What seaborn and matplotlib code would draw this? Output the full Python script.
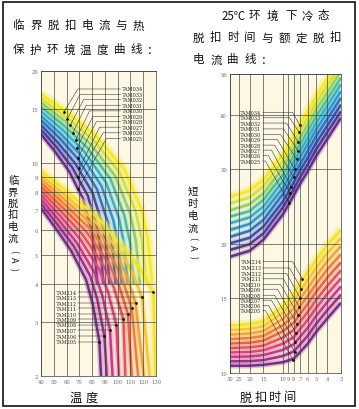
import numpy as np
import pandas as pd
import matplotlib
matplotlib.use("Agg")
import matplotlib.pyplot as plt
from matplotlib.patches import Rectangle
import seaborn as sns

sns.set_theme(style="white")
plt.rcParams['font.family'] = ['Noto Sans CJK SC', 'DejaVu Sans']

# ---------------- data: left chart (current vs ambient temperature) ----------------
temp_ticks = [40, 50, 60, 70, 80, 90, 100, 110, 120, 130]
left_y_ticks = [2, 3, 4, 5, 6, 7, 8, 9, 10, 15, 20]

hi_names = ["7AM025", "7AM026", "7AM027", "7AM028", "7AM029",
            "7AM030", "7AM031", "7AM032", "7AM033", "7AM034"]
lo_names = ["7AM205", "7AM206", "7AM207", "7AM208", "7AM209",
            "7AM210", "7AM211", "7AM212", "7AM213", "7AM214"]

left_hi_temp = [
    [40, 51, 62, 73, 79.6, 82.2, 84],
    [40, 52.2, 64.4, 76.6, 83.9, 86.8, 88.8],
    [40, 53.4, 66.8, 80.2, 88.2, 91.5, 93.6],
    [40, 54.6, 69.15, 83.7, 92.5, 96.0, 98.3],
    [40, 55.75, 71.5, 87.25, 96.7, 100.5, 103],
    [40, 56.95, 73.9, 90.85, 101, 105.1, 107.8],
    [40, 58.15, 76.3, 94.45, 105.3, 109.7, 112.6],
    [40, 59.35, 78.7, 98.05, 109.7, 114.3, 117.4],
    [40, 60.55, 81.1, 101.65, 114, 118.9, 122.2],
    [40, 61.75, 83.5, 105.25, 118.3, 123.5, 127],
]
left_hi_curr = [
    [12.4, 10.89, 9.38, 7.61, 6.02, 5.09, 4.0],
    [12.85, 11.26, 9.66, 7.81, 6.12, 5.15, 4.0],
    [13.3, 11.63, 9.95, 8.0, 6.23, 5.21, 4.0],
    [13.8, 12.04, 10.27, 8.21, 6.35, 5.27, 4.0],
    [14.25, 12.41, 10.56, 8.41, 6.46, 5.33, 4.0],
    [14.75, 12.82, 10.88, 8.62, 6.58, 5.4, 4.0],
    [15.25, 13.23, 11.2, 8.84, 6.7, 5.46, 4.0],
    [15.75, 13.64, 11.52, 9.05, 6.82, 5.53, 4.0],
    [16.25, 14.05, 11.84, 9.27, 6.94, 5.59, 4.0],
    [16.8, 14.5, 12.19, 9.5, 7.07, 5.66, 4.0],
]
left_lo_temp = [
    [40, 51.75, 63.5, 75.25, 80.5, 85.7, 87],
    [40, 52.9, 65.75, 78.6, 84.1, 89.6, 91.5],
    [40, 54, 68, 82, 88, 94, 96],
    [40, 55.25, 70.5, 85.75, 92.4, 99, 101],
    [40, 56.5, 73, 89.5, 97, 104.5, 106],
    [40, 57.75, 75.5, 93.25, 100.6, 108, 111],
    [40, 59, 78, 97, 104, 111, 116],
    [40, 60.1, 80.25, 100.4, 107.2, 114, 120.5],
    [40, 61.25, 82.5, 103.75, 111.4, 119, 125],
    [40, 62.4, 84.75, 107.1, 117.5, 128, 129.5],
]
left_lo_curr = [
    [7.1, 6.08, 5.16, 4.14, 3.45, 2.59, 2.0],
    [7.35, 6.28, 5.32, 4.25, 3.56, 2.70, 2.0],
    [7.6, 6.48, 5.47, 4.35, 3.67, 2.82, 2.0],
    [7.85, 6.68, 5.63, 4.46, 3.78, 2.94, 2.0],
    [8.1, 6.88, 5.78, 4.56, 3.9, 3.07, 2.0],
    [8.35, 7.08, 5.94, 4.67, 4.01, 3.19, 2.0],
    [8.6, 7.28, 6.09, 4.77, 4.13, 3.33, 2.0],
    [8.85, 7.48, 6.25, 4.88, 4.25, 3.46, 2.0],
    [9.1, 7.68, 6.4, 4.98, 4.38, 3.62, 2.0],
    [9.4, 7.92, 6.59, 5.11, 4.5, 3.76, 2.0],
]
# marker dots (k0..k9)
left_hi_dot_t = [69, 69, 70, 69, 68, 67, 65, 63, 60.5, 58]
left_hi_dot_i = [8.2, 9.0, 9.6, 10.4, 11.2, 11.85, 12.55, 13.3, 13.9, 14.7]
left_hi_label_i = [12.02, 12.54, 13.09, 13.63, 14.18, 14.80, 15.45, 16.11, 16.78, 17.46]
left_hi_bend_t = [91.2, 88.6, 85.9, 83.3, 80.7, 78.0, 75.4, 73.3, 70.7, 68.9]
left_lo_dot_t = [85.7, 89.6, 94, 99, 104.5, 108, 111, 114, 119, 128]
left_lo_dot_i = [2.59, 2.70, 2.82, 2.94, 3.07, 3.19, 3.33, 3.46, 3.62, 3.76]

# ---------------- data: right chart (current vs cold trip time) ----------------
time_ticks = [30, 25, 20, 15, 10, 9, 8, 7, 6, 5, 4, 3]
time_labels = ["30", "25", "20", "15", "10", "9", "8", "7", "6", "5", "4", "3"]
right_y_ticks = [10, 15, 20, 30, 40, 50]
time_grid = [30, 20, 15, 10, 8, 7, 6, 5, 4, 3]

right_hi_curr = [
    [18.7, 19.3, 20.5, 23.5, 26.0, 27.7, 29.6, 32.2, 35.2, 39.5],
    [19.4, 20.0, 21.2, 24.4, 26.9, 28.7, 30.7, 33.4, 36.5, 40.9],
    [20.1, 20.7, 22.0, 25.2, 27.9, 29.8, 31.8, 34.6, 37.8, 42.4],
    [20.8, 21.5, 22.8, 26.2, 29.0, 30.8, 33.0, 35.9, 39.2, 44.0],
    [21.6, 22.3, 23.7, 27.1, 30.0, 32.0, 34.2, 37.2, 40.6, 45.6],
    [22.4, 23.1, 24.5, 28.1, 31.1, 33.1, 35.4, 38.5, 42.1, 47.3],
    [23.2, 23.9, 25.4, 29.1, 32.2, 34.3, 36.7, 39.9, 43.6, 49.0],
    [24.0, 24.8, 26.3, 30.2, 33.4, 35.6, 38.0, 41.4, 45.2, 50.8],
    [24.9, 25.7, 27.3, 31.3, 34.6, 36.9, 39.4, 42.9, 46.9, 52.6],
    [25.8, 26.7, 28.3, 32.5, 35.9, 38.3, 40.9, 44.5, 48.6, 54.5],
]
right_lo_curr = [
    [10.4, 10.4, 10.45, 10.6, 10.8, 11.2, 11.7, 12.5, 13.4, 14.6],
    [10.65, 10.66, 10.72, 10.96, 11.23, 11.67, 12.21, 13.05, 14.0, 15.25],
    [10.91, 10.93, 11.01, 11.33, 11.67, 12.16, 12.74, 13.62, 14.63, 15.93],
    [11.17, 11.2, 11.3, 11.71, 12.13, 12.67, 13.3, 14.22, 15.29, 16.64],
    [11.44, 11.48, 11.59, 12.11, 12.61, 13.2, 13.88, 14.84, 15.97, 17.38],
    [11.72, 11.77, 11.9, 12.52, 13.11, 13.75, 14.49, 15.5, 16.69, 18.15],
    [12.0, 12.07, 12.21, 12.94, 13.63, 14.33, 15.12, 16.18, 17.44, 18.96],
    [12.29, 12.37, 12.53, 13.38, 14.16, 14.93, 15.78, 16.89, 18.23, 19.8],
    [12.59, 12.68, 12.86, 13.83, 14.72, 15.55, 16.47, 17.63, 19.04, 20.68],
    [12.9, 13.0, 13.2, 14.3, 15.3, 16.2, 17.2, 18.4, 19.9, 21.6],
]
right_hi_dot_t = [8.8, 8.6, 8.4, 8.0, 7.85, 7.5, 7.3, 7.3, 7.18, 7.07]
right_hi_dot_i = [25.0, 26.3, 27.2, 28.7, 30.0, 31.6, 33.1, 34.7, 36.6, 38.0]
right_hi_label_i = [31.3, 32.2, 33.2, 34.1, 35.1, 36.1, 37.2, 38.4, 39.5, 40.7]
right_lo_dot_t = [8.07, 7.85, 7.74, 7.63, 7.48, 7.32, 7.17, 7.03, 6.83, 6.69]
right_lo_dot_i = [10.7, 11.2, 11.8, 12.4, 13.0, 13.7, 14.3, 15.0, 15.7, 16.6]
right_lo_label_i = [14.0, 14.4, 14.8, 15.2, 15.7, 16.1, 16.6, 17.1, 17.6, 18.2]
right_bend_t = [14.4, 13.5, 12.7, 11.9, 11.2, 10.5, 9.9, 9.3, 8.7, 8.2]

hi_colors = ['#6b2a8f', '#4e3a9c', '#3550b0', '#2a74c2', '#2898d2',
             '#33b2c6', '#4fc096', '#93cf5a', '#d2e13a', '#f7ea1f']
lo_colors = ['#7a2a8c', '#a02e8c', '#c8368a', '#e0427a', '#e9505a',
             '#ee6240', '#f27f2e', '#f6a12b', '#f8c52a', '#f7e41f']

# ---------------- figure ----------------
W, H = 359, 410
fig = plt.figure(figsize=(W / 100, H / 100), dpi=100)
fig.patch.set_facecolor('white')

def fx(px):
    return px / W

def fy(py):
    return 1 - py / H

axL = fig.add_axes([fx(41), fy(377), 115 / W, 305 / H])
axR = fig.add_axes([fx(230), fy(374), 111 / W, 299 / H])

BG = '#fcf8e3'
SERIF = 'DejaVu Serif'


def family_df(names, xs_list, ys_list):
    rows = []
    for name, xs, ys in zip(names, xs_list, ys_list):
        for x, y in zip(xs, ys):
            rows.append((name, x, y))
    return pd.DataFrame(rows, columns=['curve', 'x', 'y'])


def draw_family(ax, names, xs_list, ys_list, colors):
    df = family_df(names, xs_list, ys_list)
    pal = dict(zip(names, colors))
    # soft yellow halo around the outer yellow curve
    top = df[df['curve'] == names[-1]]
    sns.lineplot(data=top, x='x', y='y', color='#f6ee8a', linewidth=7,
                 alpha=0.45, estimator=None, ax=ax, legend=False,
                 solid_capstyle='butt')
    sns.lineplot(data=df, x='x', y='y', hue='curve', palette=pal,
                 linewidth=4.0, alpha=0.28, estimator=None, ax=ax,
                 legend=False, solid_capstyle='butt')
    sns.lineplot(data=df, x='x', y='y', hue='curve', palette=pal,
                 linewidth=1.75, estimator=None, ax=ax, legend=False,
                 solid_capstyle='butt')


def style_axes(ax):
    ax.set_facecolor(BG)
    ax.set_axisbelow(False)
    ax.grid(True, which='major', color='#3a3a3a', linewidth=0.45)
    ax.minorticks_off()
    ax.tick_params(length=0, pad=2.2, labelsize=3.8, labelcolor='#6a6a6a')
    for lab in ax.get_xticklabels() + ax.get_yticklabels():
        lab.set_family(SERIF)
    for sp in ax.spines.values():
        sp.set_color('#3a3a3a')
        sp.set_linewidth(0.5)
    ax.set_xlabel('')
    ax.set_ylabel('')


# ---- left chart ----
draw_family(axL, hi_names, left_hi_temp, left_hi_curr, hi_colors)
draw_family(axL, lo_names, left_lo_temp, left_lo_curr, lo_colors)
axL.set_yscale('log')
axL.set_xlim(40, 130)
axL.set_ylim(2, 20)
axL.set_xticks(temp_ticks)
axL.set_xticklabels([str(t) for t in temp_ticks])
axL.set_yticks(left_y_ticks)
axL.set_yticklabels([str(t) for t in left_y_ticks])
style_axes(axL)

# leaders & labels, upper family
for k in range(10):
    il = left_hi_label_i[k]
    axL.plot([102.3, left_hi_bend_t[k], left_hi_dot_t[k]],
             [il, il, left_hi_dot_i[k]], color='#222', lw=0.35, zorder=4)
    axL.text(103.2, il, hi_names[k], fontsize=3.5, family=SERIF,
             ha='left', va='center', color='#222', zorder=5)
sns.scatterplot(x=left_hi_dot_t, y=left_hi_dot_i, color='#111', s=4,
                linewidth=0, ax=axL, zorder=6, legend=False)
# leaders & labels, lower family
for k in range(10):
    il = left_lo_dot_i[k]
    axL.plot([68.8, left_lo_dot_t[k]], [il, il], color='#222', lw=0.35, zorder=4)
    axL.text(68.0, il, lo_names[k], fontsize=3.5, family=SERIF,
             ha='right', va='center', color='#222', zorder=5)
sns.scatterplot(x=left_lo_dot_t, y=left_lo_dot_i, color='#111', s=4,
                linewidth=0, ax=axL, zorder=6, legend=False)

# ---- right chart ----
t_lists = [time_grid] * 10
draw_family(axR, hi_names, t_lists, right_hi_curr, hi_colors)
draw_family(axR, lo_names, t_lists, right_lo_curr, lo_colors)
axR.set_xscale('log')
axR.set_yscale('log')
axR.set_xlim(30, 3)
axR.set_ylim(10, 50)
axR.set_xticks(time_ticks)
axR.set_xticklabels(time_labels)
axR.set_yticks(right_y_ticks)
axR.set_yticklabels([str(t) for t in right_y_ticks])
style_axes(axR)

for k in range(10):
    il = right_hi_label_i[k]
    axR.plot([15.2, right_bend_t[k], right_hi_dot_t[k]],
             [il, il, right_hi_dot_i[k]], color='#222', lw=0.35, zorder=4)
    axR.text(15.7, il, hi_names[k], fontsize=3.5, family=SERIF,
             ha='right', va='center', color='#222', zorder=5)
    il2 = right_lo_label_i[k]
    axR.plot([15.2, right_bend_t[k], right_lo_dot_t[k]],
             [il2, il2, right_lo_dot_i[k]], color='#222', lw=0.35, zorder=4)
    axR.text(15.7, il2, lo_names[k], fontsize=3.5, family=SERIF,
             ha='right', va='center', color='#222', zorder=5)
sns.scatterplot(x=right_hi_dot_t, y=right_hi_dot_i, color='#111', s=4,
                linewidth=0, ax=axR, zorder=6, legend=False)
sns.scatterplot(x=right_lo_dot_t, y=right_lo_dot_i, color='#111', s=4,
                linewidth=0, ax=axR, zorder=6, legend=False)
axR.set_xlabel('')
axR.set_ylabel('')
axL.set_xlabel('')
axL.set_ylabel('')

# ---------------- texts ----------------
TS = 8.3
VS = 7.4


def put(ch, xl, yc, size=TS, **kw):
    fig.text(fx(xl), fy(yc), ch, fontsize=size, ha='left', va='center',
             color='#111', **kw)


for i, ch in enumerate("临界脱扣电流与热"):
    put(ch, 13 + i * 17.1, 25.5)
for i, ch in enumerate("保护环境温度曲线："):
    put(ch, 13 + i * 16.75, 50)

put("25℃", 222, 16)
for ch, xl in zip("环境下冷态", [249, 267, 285, 302, 318]):
    put(ch, xl, 16)
for i, ch in enumerate("脱扣时间与额定脱扣"):
    put(ch, 193 + i * 17.1, 38)
for i, ch in enumerate("电流曲线："):
    put(ch, 193 + i * 17.1, 60)

# x-axis titles
put("温", 70, 398, size=8.8)
put("度", 86, 398, size=8.8)
for i, ch in enumerate("脱扣时间"):
    put(ch, 240 + i * 14.7, 398, size=8.8)


def vput(ch, xc, yc, size=VS, rot=0):
    fig.text(fx(xc), fy(yc), ch, fontsize=size, ha='center', va='center',
             color='#111', rotation=rot)


for ch, yc in zip("临界脱扣电流", [180.5, 192.5, 204, 215.5, 227, 239]):
    vput(ch, 13, yc)
for ch, yc in zip("(A)", [252, 259.5, 269]):
    vput(ch, 13, yc, size=6.5, rot=-90)

for ch, yc in zip("短时电流", [192.5, 204.5, 216.5, 228.5]):
    vput(ch, 192.5, yc)
for ch, yc in zip("(A)", [238.5, 247.5, 257.5]):
    vput(ch, 192.5, yc, size=6.5, rot=-90)

# outer frame
fig.add_artist(Rectangle((fx(3), fy(407)), (355 - 3) / W, (407 - 3) / H,
                         transform=fig.transFigure, fill=False,
                         edgecolor='#111', linewidth=1.2))

fig.savefig("out.png", dpi=100, facecolor='white')
